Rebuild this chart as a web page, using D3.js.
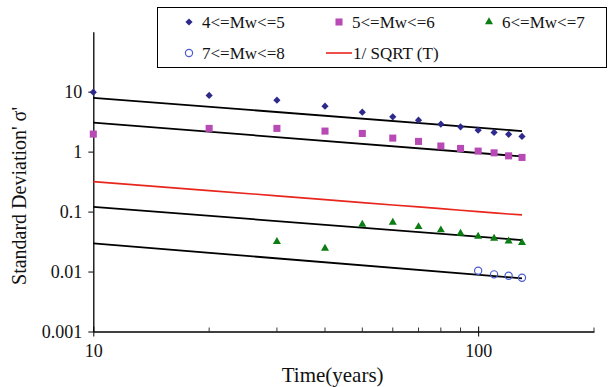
<!DOCTYPE html>
<html>
<head>
<meta charset="utf-8">
<script src="https://cdn.jsdelivr.net/npm/d3@7"></script>
<style>
  html, body { margin: 0; padding: 0; background: #fff; }
  svg { display: block; }
</style>
</head>
<body>
<svg id="chart" width="610" height="387"></svg>
<script>
// Standard deviation of sigma' against elapsed time, by magnitude band
const years = [10, 20, 30, 40, 50, 60, 70, 80, 90, 100, 110, 120, 130];
const mw45 = [9.8, 8.65, 7.2, 5.73, 4.55, 3.8, 3.35, 2.87, 2.59, 2.28, 2.09, 1.94, 1.79];
const mw56 = [1.96, 2.44, 2.44, 2.2, 2.01, 1.68, 1.48, 1.24, 1.13, 1.02, 0.955, 0.85, 0.8];
const years67 = [30, 40, 50, 60, 70, 80, 90, 100, 110, 120, 130];
const mw67 = [0.0316, 0.0244, 0.0612, 0.066, 0.0558, 0.0492, 0.0433, 0.0386, 0.0357, 0.0322, 0.0302];
const years78 = [100, 110, 120, 130];
const mw78 = [0.0103, 0.00897, 0.00851, 0.00789];
// reference curve 1/sqrt(T) at the sampled years
const invSqrtT = [0.316, 0.224, 0.183, 0.158, 0.141, 0.129, 0.120, 0.112, 0.105, 0.100, 0.095, 0.091, 0.088];
// fitted trend lines (one per band), values at the first and last year
const fitYears = [10, 130];
const fitStart = [7.9, 3.05, 0.12, 0.0295];
const fitEnd = [2.2, 0.83, 0.0335, 0.0077];
// axis ticks
const xTickLabels = [10, 100];
const xMinorTicks = [20, 30, 40, 50, 60, 70, 80, 90, 200];
const yTickValues = [0.001, 0.01, 0.1, 1, 10];

const FONT = "'Liberation Serif', 'Times New Roman', serif";

const svg = d3.select("#chart");
const x = d3.scaleLog().domain([10, 200]).range([93.3, 594]);
const y = d3.scaleLog().domain([0.001, 100]).range([331.5, 31.7]);

const colors = {
  mw45: "#2e2a8c",
  mw56: "#b84ab6",
  mw67: "#0b7d12",
  mw78: "#4a5ccf",
  red: "#e8261e"
};

// Y axis
const yAxis = d3.axisLeft(y)
  .tickValues(yTickValues)
  .tickSizeInner(5)
  .tickSizeOuter(0)
  .tickPadding(6)
  .tickFormat(d => String(d));
const gy = svg.append("g").attr("transform", `translate(${x(10)},0)`).call(yAxis);
gy.select(".domain").attr("stroke", "#000").attr("stroke-width", 1.3);
gy.selectAll(".tick line").attr("stroke", "#000");
gy.selectAll(".tick text")
  .style("font-family", FONT)
  .style("font-size", "18px")
  .attr("fill", "#111");

// X axis
const xAxis = d3.axisBottom(x)
  .tickValues(xTickLabels)
  .tickSizeInner(5)
  .tickSizeOuter(0)
  .tickPadding(8)
  .tickFormat(d => String(d));
const gx = svg.append("g").attr("transform", `translate(0,${y(0.001)})`).call(xAxis);
gx.select(".domain").attr("stroke", "#000").attr("stroke-width", 1.3);
gx.selectAll(".tick line").attr("stroke", "#000").attr("y1", -5);
gx.selectAll(".tick text")
  .style("font-family", FONT)
  .style("font-size", "18px")
  .attr("fill", "#111");
gx.selectAll(".minor")
  .data(xMinorTicks)
  .enter().append("line")
  .attr("class", "minor")
  .attr("x1", d => x(d)).attr("x2", d => x(d))
  .attr("y1", -4).attr("y2", 0)
  .attr("stroke", "#000").attr("stroke-width", 0.8);

// Axis titles
svg.append("text")
  .attr("x", (x(10) + x(200)) / 2 - 11)
  .attr("y", 382)
  .attr("text-anchor", "middle")
  .style("font-family", FONT)
  .style("font-size", "21px")
  .attr("fill", "#111")
  .text("Time(years)");

svg.append("text")
  .attr("transform", "translate(26,196) rotate(-90)")
  .attr("text-anchor", "middle")
  .style("font-family", FONT)
  .style("font-size", "20px")
  .attr("fill", "#111")
  .text("Standard Deviation' σ'");

// Fitted trend lines
const fitLine = d3.line().x(d => x(d[0])).y(d => y(d[1]));
fitStart.forEach((s, i) => {
  svg.append("path")
    .datum([[fitYears[0], s], [fitYears[1], fitEnd[i]]])
    .attr("d", fitLine)
    .attr("fill", "none")
    .attr("stroke", "#000")
    .attr("stroke-width", 1.8);
});

// 1/sqrt(T) curve
svg.append("path")
  .datum(years.map((t, i) => [t, invSqrtT[i]]))
  .attr("d", fitLine)
  .attr("fill", "none")
  .attr("stroke", colors.red)
  .attr("stroke-width", 1.6);

// Marker shapes
const diamond = d3.symbol().type(d3.symbolSquare).size(26);
const square = d3.symbol().type(d3.symbolSquare).size(50);
const triangle = d3.symbol().type(d3.symbolTriangle).size(28);

function drawSeries(xs, ys, draw) {
  xs.forEach((t, i) => draw(svg, x(t), y(ys[i])));
}
function drawDiamond(g, cx, cy) {
  g.append("path").attr("d", diamond())
    .attr("transform", `translate(${cx},${cy}) rotate(45)`)
    .attr("fill", colors.mw45);
}
function drawSquare(g, cx, cy) {
  g.append("path").attr("d", square())
    .attr("transform", `translate(${cx},${cy})`)
    .attr("fill", colors.mw56);
}
function drawTriangle(g, cx, cy) {
  g.append("path").attr("d", triangle())
    .attr("transform", `translate(${cx},${cy})`)
    .attr("fill", colors.mw67);
}
function drawCircle(g, cx, cy) {
  g.append("circle").attr("cx", cx).attr("cy", cy).attr("r", 3.6)
    .attr("fill", "none")
    .attr("stroke", colors.mw78)
    .attr("stroke-width", 1.2);
}

drawSeries(years, mw45, drawDiamond);
drawSeries(years, mw56, drawSquare);
drawSeries(years67, mw67, drawTriangle);
drawSeries(years78, mw78, drawCircle);

// Legend
const legend = svg.append("g");
legend.append("rect")
  .attr("x", 157.5).attr("y", 7.5).attr("width", 449).attr("height", 60)
  .attr("fill", "#fff").attr("stroke", "#000").attr("stroke-width", 1);

const legendItems = [
  { label: "4<=Mw<=5", mx: 189, my: 22, draw: drawDiamond },
  { label: "5<=Mw<=6", mx: 339, my: 22, draw: drawSquare },
  { label: "6<=Mw<=7", mx: 489, my: 22, draw: drawTriangle },
  { label: "7<=Mw<=8", mx: 189, my: 53, draw: drawCircle },
];
legendItems.forEach(it => {
  it.draw(legend, it.mx, it.my);
  legend.append("text")
    .attr("x", it.mx + 13).attr("y", it.my + 6)
    .style("font-family", FONT)
    .style("font-size", "17px")
    .attr("fill", "#111")
    .text(it.label);
});
legend.append("line")
  .attr("x1", 326).attr("x2", 352).attr("y1", 53).attr("y2", 53)
  .attr("stroke", colors.red).attr("stroke-width", 1.6);
legend.append("text")
  .attr("x", 353).attr("y", 59)
  .style("font-family", FONT)
  .style("font-size", "17px")
  .attr("fill", "#111")
  .text("1/ SQRT (T)");
</script>
</body>
</html>
